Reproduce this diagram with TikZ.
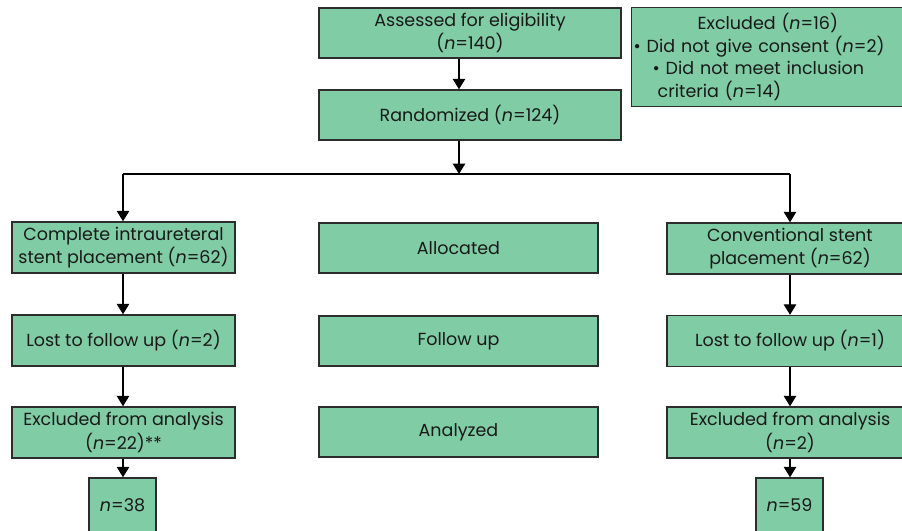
\documentclass[tikz,border=0pt]{standalone}
\usepackage{fontspec}
\setmainfont{Poppins}
\usetikzlibrary{arrows.meta}
\definecolor{boxfill}{RGB}{128,204,165}
\definecolor{boxline}{RGB}{45,45,45}
\definecolor{txt}{RGB}{25,25,25}
\tikzset{
  fbox/.style={draw=boxline, line width=1.4pt, fill=boxfill, text=txt, align=center,
    inner sep=0pt, font=\fontsize{17.5}{23.5}\selectfont},
  conn/.style={draw=black, line width=1.3pt},
  arr/.style={conn, -{Triangle[length=10.5pt,width=12.5pt]}},
}
\begin{document}
\begin{tikzpicture}[x=1pt,y=-1pt]
\useasboundingbox (0,0) rectangle (902,530);
\clip (0,0) rectangle (902,530);
% top column
\node[fbox, minimum width=302pt, minimum height=50pt] (assess) at (470,33) {Assessed for eligibility\\(\textit{n}=140)};
\node[fbox, minimum width=302pt, minimum height=50pt] (rand) at (470,115) {Randomized (\textit{n}=124)};
\node[fbox, minimum width=280pt, minimum height=99pt, align=left, anchor=north west, text width=276pt, inner xsep=2pt, font=\fontsize{17.5}{22.5}\selectfont] (excl) at (631,7) {\hspace*{64pt}Excluded (\textit{n}=16)\\\textbullet{} Did not give consent (\textit{n}=2)\\\hspace*{19pt}\textbullet{} Did not meet inclusion\\\hspace*{24pt}criteria (\textit{n}=14)};
% left column
\node[fbox, minimum width=223pt, minimum height=51pt] (compl) at (123.5,247.5) {Complete intraureteral\\stent placement (\textit{n}=62)};
\node[fbox, minimum width=223pt, minimum height=51pt] (lost1) at (123.5,340.5) {Lost to follow up (\textit{n}=2)};
\node[fbox, minimum width=223pt, minimum height=51pt] (excl1) at (123.5,432.5) {Excluded from analysis\\(\textit{n}=22)**};
\node[fbox, minimum width=67pt, minimum height=54pt] (n38) at (122.5,505) {\textit{n}=38};
% middle column
\node[fbox, minimum width=279pt, minimum height=50pt] (alloc) at (458.5,248) {Allocated};
\node[fbox, minimum width=279pt, minimum height=50pt] (follow) at (458.5,341) {Follow up};
\node[fbox, minimum width=279pt, minimum height=50pt] (analyzed) at (458.5,432) {Analyzed};
% right column
\node[fbox, minimum width=246pt, minimum height=51pt] (conv) at (790,248.5) {Conventional stent\\placement (\textit{n}=62)};
\node[fbox, minimum width=246pt, minimum height=51pt] (lost2) at (790,341) {Lost to follow up (\textit{n}=1)};
\node[fbox, minimum width=246pt, minimum height=51pt] (excl2) at (790,432.5) {Excluded from analysis\\(\textit{n}=2)};
\node[fbox, minimum width=67pt, minimum height=54pt] (n59) at (789.5,505) {\textit{n}=59};
% connectors
\coordinate (axis) at (459,0);
\coordinate (split) at (459,174);
\coordinate (splitL) at (123,174);
\coordinate (splitR) at (790,174);
\draw[arr] (assess.south -| axis) -- (rand.north -| axis);
\draw[arr] (rand.south -| axis) -- (split);
\draw[conn] (splitL) -- (splitR);
\draw[arr] (splitL) -- (compl.north -| splitL);
\draw[arr] (splitR) -- (conv.north -| splitR);
\draw[arr] (compl.south -| splitL) -- (lost1.north -| splitL);
\draw[arr] (lost1.south -| splitL) -- (excl1.north -| splitL);
\draw[arr] (excl1.south -| splitL) -- (n38.north -| splitL);
\draw[arr] (conv.south -| splitR) -- (lost2.north -| splitR);
\draw[arr] (lost2.south -| splitR) -- (excl2.north -| splitR);
\draw[arr] (excl2.south -| splitR) -- (n59.north -| splitR);
\end{tikzpicture}
\end{document}
